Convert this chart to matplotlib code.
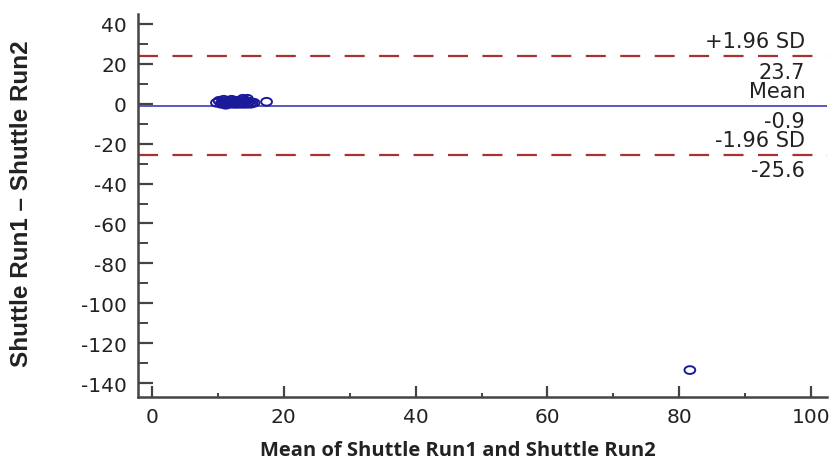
import matplotlib
matplotlib.use('Agg')
import matplotlib.pyplot as plt
from matplotlib.path import Path
from matplotlib.ticker import MultipleLocator
import numpy as np

plt.rcParams['axes.unicode_minus'] = False

# Bland-Altman : Shuttle Run1 vs Shuttle Run2
mean_vals = [9.8, 10.2, 10.5, 10.7, 10.9, 11.0, 11.2, 11.3, 11.5, 11.6,
             11.8, 11.9, 12.0, 12.1, 12.3, 12.4, 12.5, 12.7, 12.8, 12.9,
             13.0, 13.1, 13.3, 13.4, 13.5, 13.6, 13.8, 13.9, 14.0, 14.1,
             14.2, 14.4, 14.5, 14.6, 14.8, 15.0, 15.2, 15.5, 17.4, 81.6]
diff_vals = [0.5, 1.5, 0.0, 1.0, 2.0, 0.5, -0.5, 1.0, 0.0, 1.5,
             0.5, 1.0, 0.0, 2.0, 0.5, 1.0, 0.0, 1.5, 0.5, 0.0,
             1.0, 0.5, 1.5, 0.0, 0.5, 1.0, 2.5, 0.0, 1.0, 0.5,
             1.5, 0.0, 2.5, 0.5, 1.0, 0.0, 0.5, 0.5, 1.0, -133.5]

mean_diff = -0.9
upper_loa = 23.7
lower_loa = -25.6

tick_font = ['DejaVu Sans']

# marqueur ovale (cercle étiré en largeur)
t = np.linspace(0, 2 * np.pi, 40)
oval = Path(np.column_stack([np.cos(t), 0.72 * np.sin(t)]), closed=True)

fig = plt.figure(figsize=(8.36, 4.64), dpi=100)
ax = fig.add_axes([138 / 836, 1 - 398 / 464, (827 - 138) / 836, (398 - 15) / 464])

ax.axhline(upper_loa, color='#A83232', lw=1.6, dashes=(9, 6.5))
ax.axhline(lower_loa, color='#A83232', lw=1.6, dashes=(9, 6.5))
ax.axhline(mean_diff, color='#4C4CB4', lw=1.3)

ax.scatter(mean_vals, diff_vals, s=60, marker=oval, facecolors='none',
           edgecolors='#1A1A9A', linewidths=1.4, zorder=3)

# libellés des limites d'accord, à droite
lab_x = 99.1
txt_kw = dict(ha='right', va='baseline', fontsize=15, color='#222222',
              family=tick_font, textcoords='offset points')
for y, above, below in [(upper_loa, '+1.96 SD', '23.7'),
                        (mean_diff, 'Mean', '-0.9'),
                        (lower_loa, '-1.96 SD', '-25.6')]:
    ax.annotate(above, (lab_x, y), xytext=(0, 6.5), **txt_kw)
    ax.annotate(below, (lab_x, y), xytext=(0, -15.5), **txt_kw)

ax.set_xlim(-2.1, 102.4)
ax.set_ylim(-147, 45)
ax.xaxis.set_major_locator(MultipleLocator(20))
ax.xaxis.set_minor_locator(MultipleLocator(10))
ax.yaxis.set_major_locator(MultipleLocator(20))
ax.yaxis.set_minor_locator(MultipleLocator(10))

for side in ('top', 'right'):
    ax.spines[side].set_visible(False)
for side in ('left', 'bottom'):
    ax.spines[side].set_color('#444444')
    ax.spines[side].set_linewidth(1.8)

ax.tick_params(axis='y', which='major', direction='in', length=11, width=1.6,
               color='#444444', pad=8)
ax.tick_params(axis='y', which='minor', direction='in', length=7, width=1.4,
               color='#444444')
ax.tick_params(axis='x', which='major', direction='in', length=8, width=1.6,
               color='#444444', pad=7)
ax.tick_params(axis='x', which='minor', direction='in', length=3, width=1.4,
               color='#444444')
for lbl in ax.get_xticklabels() + ax.get_yticklabels():
    lbl.set_family(tick_font)
    lbl.set_fontsize(14.5)
    lbl.set_color('#222222')

fig.text(458 / 836, 1 - 451 / 464, 'Mean of Shuttle Run1 and Shuttle Run2',
         ha='center', va='center', fontsize=14.5, fontweight='bold',
         family=['Open Sans', 'DejaVu Sans'], color='#222222')
fig.text(22 / 836, 1 - 204 / 464, 'Shuttle Run1 \u2013 Shuttle Run2',
         ha='center', va='center', rotation=90, fontsize=17.5, fontweight='bold',
         family=['Liberation Sans', 'DejaVu Sans'], color='#222222')

fig.savefig('out.png', dpi=100)
